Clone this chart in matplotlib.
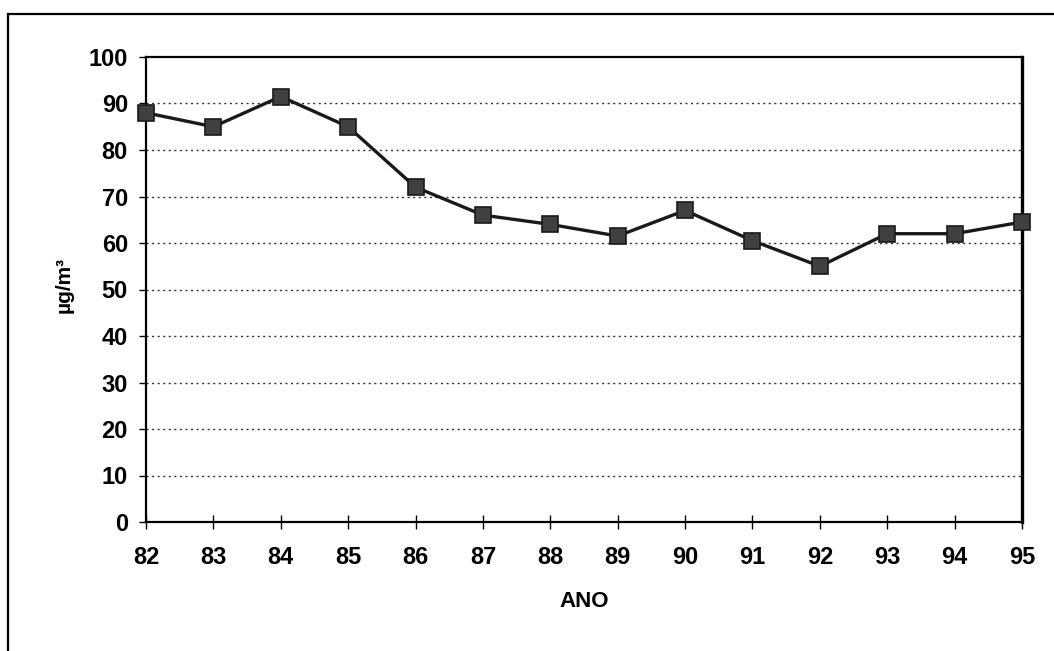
import matplotlib.pyplot as plt
from matplotlib.patches import Rectangle

# Dados: média anual (µg/m³)
anos = ["82", "83", "84", "85", "86", "87", "88", "89", "90", "91", "92", "93", "94", "95"]
valores = [88, 85, 91.5, 85, 72, 66, 64, 61.5, 67, 60.5, 55, 62, 62, 64.5]
yticks = [0, 10, 20, 30, 40, 50, 60, 70, 80, 90, 100]

plt.rcParams['font.family'] = ['Liberation Sans', 'DejaVu Sans']

W, H = 1054, 651
fig = plt.figure(figsize=(W / 100, H / 100), dpi=100)

# moldura externa
fig.patches.append(Rectangle((8 / W, -0.05), 1.2, 1 - 14 / H + 0.05,
                             transform=fig.transFigure, fill=False,
                             edgecolor='black', linewidth=1.6))

ax = fig.add_axes([146 / W, 1 - 522 / H, (1022 - 146) / W, (522 - 57) / H])

x = list(range(len(anos)))
ax.plot(x, valores, color='#1a1a1a', lw=2.4, marker='s', markersize=11,
        markerfacecolor='#404040', markeredgecolor='#1a1a1a', markeredgewidth=1.2,
        zorder=3, clip_on=False)

ax.set_xlim(0, len(anos) - 1)
ax.set_ylim(0, 100)
ax.set_xticks(x)
ax.set_xticklabels(anos)
ax.set_yticks(yticks)

for v in yticks[1:-1]:
    ax.axhline(v, color='#333333', lw=1.0, linestyle=(0, (1.5, 2.5)), zorder=1)

for s in ax.spines.values():
    s.set_linewidth(1.6)
    s.set_color('black')
ax.spines['right'].set_linewidth(2.4)

ax.tick_params(axis='x', direction='inout', length=10, width=1, pad=12, labelsize=17)
ax.tick_params(axis='y', direction='out', length=5, width=1, pad=8, labelsize=17)
for lbl in ax.get_xticklabels() + ax.get_yticklabels():
    lbl.set_fontweight('bold')

ax.set_xlabel("ANO", fontsize=16, fontweight='bold', labelpad=16)
ax.set_ylabel("µg/m³", fontsize=15, fontweight='bold', labelpad=6)
ax.yaxis.set_label_coords(-0.083, 0.51)

fig.savefig("out.png", dpi=100)
